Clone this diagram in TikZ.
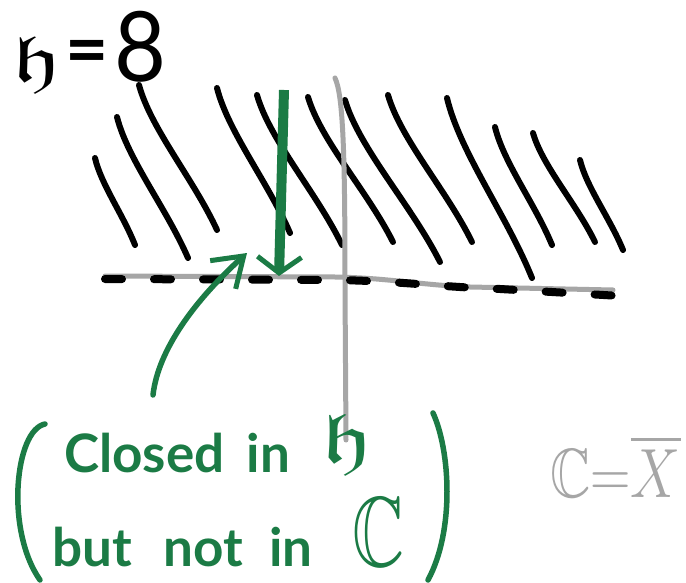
\documentclass[tikz,border=0pt]{standalone}
\usepackage{amssymb}
\usepackage{fontspec}
\setmainfont{Lato}
\usetikzlibrary{arrows.meta}
\definecolor{pen}{HTML}{1B7B45}
\definecolor{axis}{HTML}{A6A6A6}

\begin{document}
\begin{tikzpicture}[
  x=1pt, y=-1pt,
  hatch/.style={line width=6pt, line cap=round, draw=black},
  axisline/.style={line width=5pt, line cap=round, draw=axis},
  realline/.style={line width=8pt, line cap=round, draw=black,
                   dash pattern=on 17pt off 32pt},
  penline/.style={line width=5.5pt, line cap=round, draw=pen},
  ink/.style={text=pen, inner sep=0pt, font=\fontsize{53}{60}\selectfont\bfseries},
  barb/.style={-{Straight Barb[length=16pt,width=44pt,line width=5pt]}}
]
\path[use as bounding box, fill=white] (0,0) rectangle (686,583);

% shaded half plane
\foreach \xa/\ya/\xb/\yb in {95/158/135/245, 117/117/188/258, 139/85/217/230,
    217/88/290/233, 257/95/342/245, 308/97/393/242, 345/100/440/262,
    388/95/472/242, 447/98/532/278, 495/127/552/245, 533/133/595/242,
    580/160/623/250}
  \draw[hatch] (\xa,\ya) .. controls +({0.15*(\xb-\xa)},{0.3*(\yb-\ya)})
    and +({-0.3*(\xb-\xa)},{-0.35*(\yb-\ya)}) .. (\xb,\yb);

% axes and the real line
\draw[axisline] (335,78) .. controls (343,95) and (345,150) .. (345,287) -- (346,440);
\draw[axisline] (105,276) -- (335,277) .. controls (390,278) and (420,285) .. (470,287) -- (613,290);
\draw[realline] (105,279) -- (335,280) .. controls (400,281) and (440,287) .. (500,289) -- (638,297);

% labels
\node[anchor=base west, inner sep=0pt] (hdef) at (12,82)
  {\scalebox{3.8}[2.6]{\Huge$\mathfrak{h}$}\hspace{4pt}\raisebox{6pt}{\scalebox{3}[3]{\Huge\bfseries=}}\hspace{6pt}\scalebox{3.6}[3.9]{\Huge 8}};
\node[ink, anchor=base west] (closedtxt) at (64,472)
  {Closed\hspace{22pt}in\hspace{32pt}\raisebox{10pt}{\scalebox{4}[2.8]{\Huge$\mathfrak{h}$}}};
\node[ink, anchor=base west] (notintxt) at (52,566)
  {but\hspace{32pt}not\hspace{26pt}in\hspace{40pt}\scalebox{2.9}[4]{\Huge$\mathbb{C}$}};
\node[text=axis, anchor=base west, inner sep=0pt] (closure) at (550,497)
  {\scalebox{2.25}[2.8]{\Huge$\mathbb{C}{=}\overline{X}$}};

% brackets
\draw[penline] (45,424) .. controls (15,430) and (5,530) .. (40,580);
\draw[penline] (433,413) .. controls (450,450) and (455,530) .. (428,580);

% arrows
\coordinate (bartop) at (284,90);
\coordinate (bartip) at (279,276);
\draw[penline, line width=10pt, line cap=butt, barb] (bartop) -- (bartip);

\coordinate (pointer) at (153,395);
\coordinate (pointertip) at (247,253);
\draw[penline, -{Straight Barb[length=28pt,width=38pt,line width=5pt]}]
  (pointer) .. controls (158,350) and (195,300) .. (pointertip);

\end{tikzpicture}
\end{document}
